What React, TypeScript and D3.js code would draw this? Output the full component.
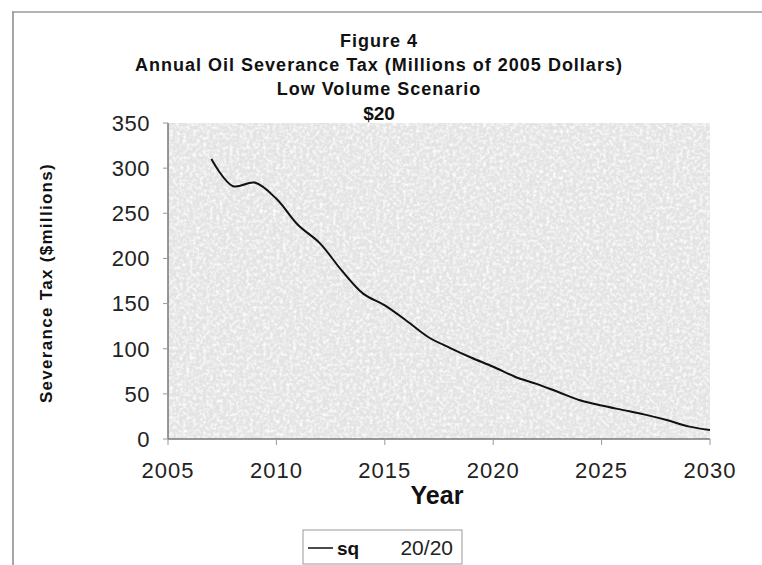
import React from 'react';
import * as d3 from 'd3';

const years = [2007, 2008, 2009, 2010, 2011, 2012, 2013, 2014, 2015, 2016, 2017, 2018, 2019, 2020, 2021, 2022, 2023, 2024, 2025, 2026, 2027, 2028, 2029, 2030];
const taxValues = [310, 280, 284, 266, 237, 217, 187, 161, 148, 131, 113, 101, 90, 80, 69, 61, 52, 43, 37, 32, 27, 21, 14, 10];
const xTicks = [2005, 2010, 2015, 2020, 2025, 2030];
const yTicks = [0, 50, 100, 150, 200, 250, 300, 350];
const titleLines = ['Figure 4', 'Annual Oil Severance Tax (Millions of 2005 Dollars)', 'Low Volume Scenario'];

const App: React.FC = () => {
  const width = 762;
  const height = 565;
  const left = 168;
  const right = 710;
  const top = 123;
  const bottom = 439;

  const x = d3.scaleLinear().domain([2005, 2030]).range([left, right]);
  const y = d3.scaleLinear().domain([0, 350]).range([bottom, top]);

  const points = years.map((yr, i) => ({ x: x(yr), y: y(taxValues[i]) }));
  const line = d3.line<{ x: number; y: number }>()
    .x(d => d.x)
    .y(d => d.y)
    .curve(d3.curveCatmullRom.alpha(0.5));

  const font = 'Liberation Sans, Arial, sans-serif';

  return (
    <svg width={width} height={height} style={{ position: 'absolute', left: 0, top: 0, background: '#fff' }} fontFamily={font}>
      <defs>
        <filter id="grain" x="0" y="0" width="100%" height="100%">
          <feTurbulence type="fractalNoise" baseFrequency="0.3" numOctaves="3" seed="4" result="n" />
          <feColorMatrix in="n" type="matrix" values="0 0 0 0 1  0 0 0 0 1  0 0 0 0 1  0 0 0 2.2 -0.9" result="c" />
          <feComposite in="c" in2="SourceGraphic" operator="in" />
        </filter>
      </defs>

      {/* outer frame */}
      <line x1={12} y1={12} x2={762} y2={12} stroke="#9a9a9a" strokeWidth={1.5} />
      <line x1={13} y1={12} x2={13} y2={565} stroke="#8a8a8a" strokeWidth={1.5} />

      {/* titles */}
      {titleLines.map((t, i) => (
        <text key={t} x={379} y={47 + i * 24} textAnchor="middle" fontSize={18} fontWeight="bold" letterSpacing={1} fill="#111">{t}</text>
      ))}

      {/* plot area */}
      <rect x={left} y={top} width={right - left} height={bottom - top} fill="#e3e3e3" />
      <rect x={left} y={top} width={right - left} height={bottom - top} fill="#fff" filter="url(#grain)" />
      <text x={379} y={120} textAnchor="middle" fontSize={19} fontWeight="bold" fill="#111">$20</text>

      {/* axes */}
      <line x1={left} y1={top} x2={left} y2={bottom} stroke="#777" strokeWidth={1.5} />
      <line x1={left} y1={bottom} x2={right} y2={bottom} stroke="#777" strokeWidth={1.5} />

      {yTicks.map(t => (
        <g key={`y-${t}`}>
          <line x1={left - 5} y1={y(t)} x2={left} y2={y(t)} stroke="#999" />
          <text x={150} y={y(t)} dy="0.36em" textAnchor="end" fontSize={22} letterSpacing={0.5} fill="#222">{t}</text>
        </g>
      ))}

      {xTicks.map(t => (
        <g key={`x-${t}`}>
          <line x1={x(t)} y1={bottom} x2={x(t)} y2={bottom + 6} stroke="#999" />
          <text x={x(t)} y={478} textAnchor="middle" fontSize={22} letterSpacing={1} fill="#222">{t}</text>
        </g>
      ))}

      <text x={437} y={504} textAnchor="middle" fontSize={25} fontWeight="bold" fill="#111">Year</text>
      <text transform="translate(52,283) rotate(-90)" textAnchor="middle" fontSize={17} fontWeight="bold" letterSpacing={1.3} fill="#111">Severance Tax ($millions)</text>

      {/* series */}
      <path d={line(points) || ''} fill="none" stroke="#111" strokeWidth={2} />

      {/* legend */}
      <rect x={303} y={530} width={159} height={34} fill="#fff" stroke="#999" />
      <line x1={308} y1={548} x2={333} y2={548} stroke="#111" strokeWidth={1.5} />
      <text x={337} y={555} fontSize={19} fontWeight="bold" fill="#111">sq</text>
      <text x={453} y={555} textAnchor="end" fontSize={21} fill="#222">20/20</text>
    </svg>
  );
};

export default App;
